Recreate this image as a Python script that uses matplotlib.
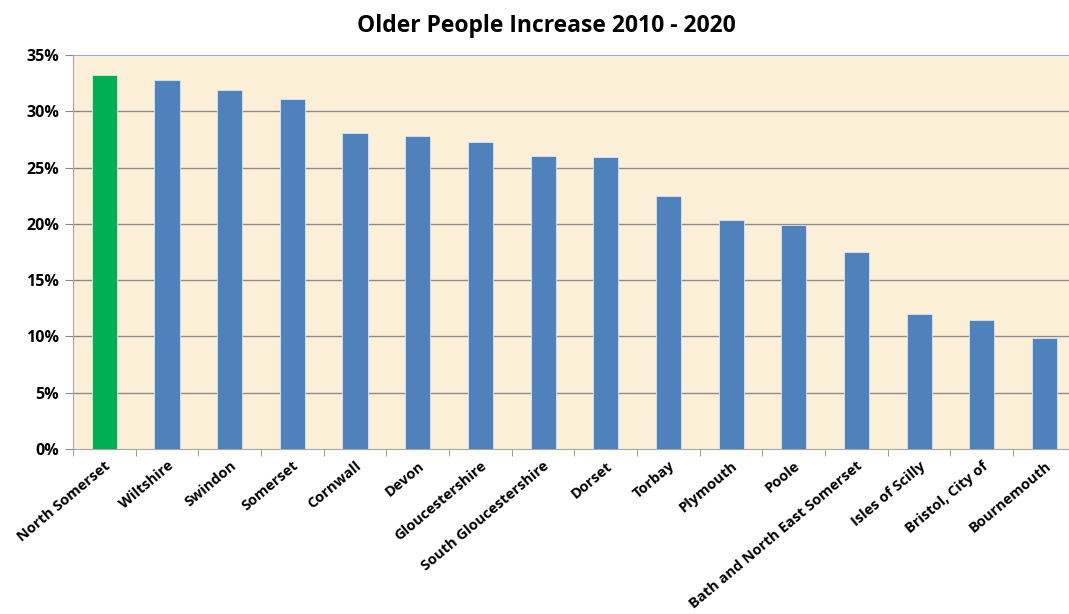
import matplotlib.pyplot as plt
import numpy as np

AREAS = [
    "North Somerset", "Wiltshire", "Swindon", "Somerset", "Cornwall", "Devon",
    "Gloucestershire", "South Gloucestershire", "Dorset", "Torbay", "Plymouth",
    "Poole", "Bath and North East Somerset", "Isles of Scilly", "Bristol, City of",
    "Bournemouth",
]
INCREASE = [33.2, 32.8, 31.9, 31.1, 28.1, 27.8, 27.3, 26.0, 25.9, 22.5, 20.3,
            19.9, 17.5, 12.0, 11.5, 9.9]
HIGHLIGHT = "North Somerset"

plt.rcParams['font.family'] = ['Open Sans', 'DejaVu Sans']

fig = plt.figure(figsize=(10.69, 6.14), dpi=100)
ax = fig.add_axes([0.0683, 0.2687, 0.938, 0.6417])
ax.set_facecolor("#FBEFD8")

x = np.arange(len(AREAS))
colors = ["#00B050" if a == HIGHLIGHT else "#4F81BD" for a in AREAS]
ax.bar(x, INCREASE, width=0.4, color=colors, edgecolor="#DCE6F2",
       linewidth=0.6, zorder=3)

ax.set_xlim(-0.5, len(AREAS) - 0.5)
ax.set_ylim(0, 35)
ax.set_yticks(range(0, 36, 5))
ax.set_yticklabels([f"{v}%" for v in range(0, 36, 5)], fontsize=11.5,
                   fontweight='bold')
for v in range(5, 35, 5):
    ax.axhline(v, color="#8C8C8C", linewidth=1.0, zorder=1)
ax.axhline(35, color="#7F9FCF", linewidth=1.2, zorder=1)

ax.set_xticks(x)
ax.set_xticklabels(AREAS, rotation=40, ha='right', rotation_mode='anchor',
                   fontsize=10.5, fontweight='bold')
ax.tick_params(axis='x', which='major', length=0, pad=7)
ax.set_xticks(np.arange(len(AREAS) + 1) - 0.5, minor=True)
ax.tick_params(axis='x', which='minor', length=5, color="#8C8C8C")
ax.tick_params(axis='y', length=6, color="#8C8C8C", pad=4)

for s in ['top', 'right']:
    ax.spines[s].set_visible(False)
ax.spines['left'].set_color("#A6A6A6")
ax.spines['bottom'].set_color("#A6A6A6")

fig.text(0.511, 0.958, "Older People Increase 2010 - 2020", ha='center',
         va='center', fontsize=16.5, fontweight='bold')

fig.savefig("out.png", dpi=100)
